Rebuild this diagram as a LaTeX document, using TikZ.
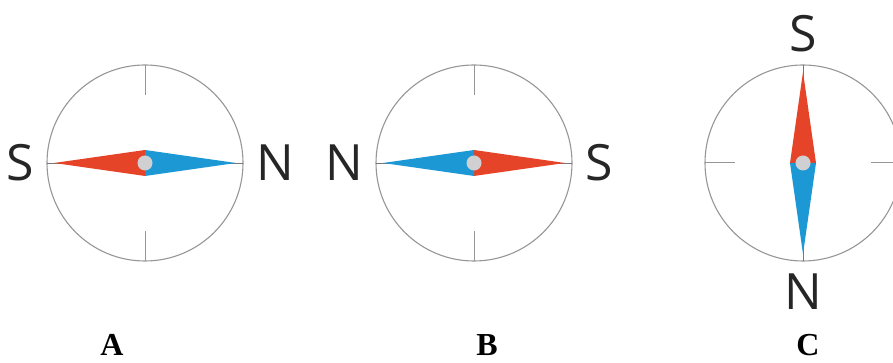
\documentclass[tikz,border=0pt]{standalone}
\usepackage{fontspec}
\setmainfont{Liberation Serif}
\newfontfamily\dirfont{Open Sans}
\usetikzlibrary{calc}
\definecolor{needlered}{RGB}{230,68,40}
\definecolor{needleblue}{RGB}{28,152,212}
\definecolor{dialgray}{RGB}{150,150,150}
\definecolor{pivotgray}{RGB}{208,208,210}
\tikzset{
  dial/.style={circle, draw=dialgray, line width=1.1pt,
               minimum size=196pt, inner sep=0pt},
  dialtick/.style={draw=dialgray, line width=1pt},
  axisline/.style={draw=dialgray!80!black, line width=0.8pt},
  redhalf/.style={fill=needlered},
  bluehalf/.style={fill=needleblue},
  pivot/.style={circle, fill=pivotgray, minimum size=15pt, inner sep=0pt},
  dirlbl/.style={font=\dirfont\fontsize{50}{50}\selectfont,
                 inner sep=0pt, text=black!85},
  caplbl/.style={font=\bfseries\fontsize{32}{32}\selectfont, inner sep=0pt},
}
\begin{document}
\begin{tikzpicture}[x=1pt, y=1pt]
  \useasboundingbox (0,0) rectangle (893,363);
  \clip (0,0) rectangle (893,363);

  % three compasses: name / centre x / direction of the N end
  \foreach \lab/\cx/\ang in {A/145/0, B/474/180, C/803/270} {
    \begin{scope}[shift={(\cx,200)}, rotate=\ang]
      \node[dial] (dial\lab) at (0,0) {};
      \draw[axisline] (-98,0) -- (98,0);
      \draw[dialtick] (0,98) -- (0,68);
      \draw[dialtick] (0,-98) -- (0,-68);
      \fill[redhalf]  (-91,0) -- (0,13) -- (0,-13) -- cycle;
      \fill[bluehalf] (91,0) -- (0,13) -- (0,-13) -- cycle;
      \node[pivot] (pivot\lab) at (0,0) {};
      \coordinate (ntip\lab) at (111,0);
      \coordinate (stip\lab) at (-111,0);
    \end{scope}
    \pgfmathsetmacro\nanc{mod(\ang+180,360)}
    \pgfmathsetmacro\sanc{mod(\ang,360)}
    \node[dirlbl, anchor=\nanc] (n\lab) at (ntip\lab) {N};
    \node[dirlbl, anchor=\sanc] (s\lab) at (stip\lab) {S};
  }

  % captions
  \node[caplbl] (capA) at (112,18) {A};
  \node[caplbl] (capB) at (487,18) {B};
  \node[caplbl] (capC) at (808,18) {C};
\end{tikzpicture}
\end{document}
